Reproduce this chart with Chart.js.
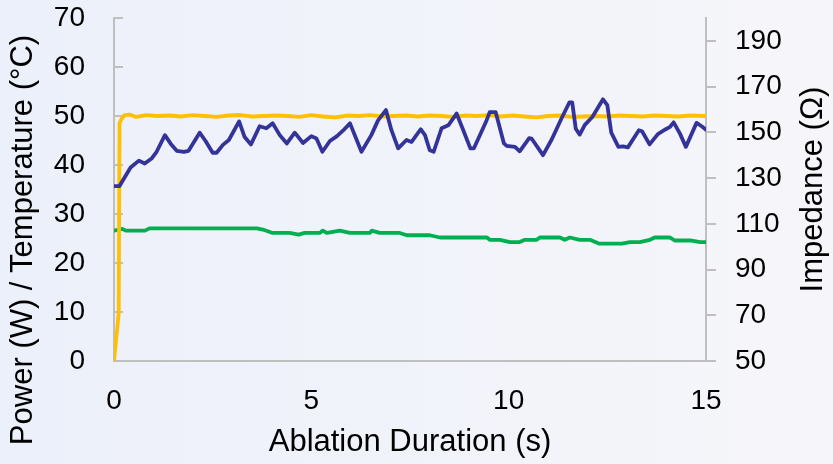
<!DOCTYPE html>
<html>
<head>
<meta charset="utf-8">
<script src="https://cdn.jsdelivr.net/npm/chart.js@4"></script>
<style>
  html, body { margin: 0; padding: 0; }
  body { width: 833px; height: 464px; overflow: hidden;
         background: linear-gradient(to right, #ecf0fa 0%, #f1f3fa 50%, #f6f6fa 100%); }
  #wrap { width: 833px; height: 464px; }
</style>
</head>
<body>
<div id="wrap"><canvas id="c" width="833" height="464"></canvas></div>
<script>
// ---- data ----
const xTicks = [0, 5, 10, 15];
const leftTicks = [0, 10, 20, 30, 40, 50, 60, 70];
const rightTicks = [50, 70, 90, 110, 130, 150, 170, 190];

const xTitle = 'Ablation Duration (s)';
const leftTitle = 'Power (W) / Temperature (°C)';
const rightTitle = 'Impedance (Ω)';

// Temperature (°C), left axis
const tempTime = [0, 0.14, 0.42, 0.63, 0.78, 0.96, 1.08, 1.29, 1.44, 1.59, 1.77, 1.89, 2.17, 2.32, 2.50, 2.60, 2.76, 2.91, 3.17, 3.31, 3.47, 3.69, 3.86, 4.02, 4.20, 4.38, 4.58, 4.79, 5.00, 5.13, 5.28, 5.47, 5.65, 5.80, 5.98, 6.27, 6.52, 6.69, 6.89, 7.03, 7.20, 7.41, 7.54, 7.77, 7.88, 8.00, 8.10, 8.30, 8.47, 8.68, 8.83, 9.03, 9.12, 9.44, 9.52, 9.67, 9.88, 9.95, 10.16, 10.28, 10.52, 10.58, 10.87, 11.09, 11.35, 11.54, 11.61, 11.70, 11.80, 11.93, 12.12, 12.39, 12.50, 12.60, 12.78, 12.90, 13.02, 13.30, 13.38, 13.57, 13.78, 13.98, 14.09, 14.18, 14.34, 14.49, 14.76, 14.89, 15.0];
const tempValues = [35.7, 35.7, 39.5, 40.9, 40.3, 41.4, 42.7, 46.1, 44.3, 42.9, 42.7, 42.9, 46.6, 44.9, 42.5, 42.5, 44.1, 45.1, 48.9, 45.7, 44.2, 47.9, 47.5, 48.5, 46.1, 44.4, 46.6, 44.5, 45.9, 45.4, 42.7, 44.9, 45.9, 47.0, 48.5, 42.7, 46.1, 49.1, 51.2, 47.1, 43.4, 45.1, 44.7, 47.3, 46.1, 43.0, 42.7, 47.5, 48.1, 50.5, 47.5, 43.4, 43.4, 49.1, 50.8, 50.8, 44.4, 43.9, 43.7, 42.8, 45.5, 45.4, 42.0, 45.2, 49.7, 52.8, 52.8, 47.4, 46.2, 48.2, 49.8, 53.4, 52.2, 46.6, 43.7, 43.8, 43.6, 47.1, 46.9, 44.2, 46.3, 47.3, 47.8, 48.7, 46.4, 43.7, 48.6, 47.9, 47.2];

// Power (W), left axis
const powerTime = [0, 0.12, 0.14, 0.19, 0.27, 0.4, 0.56, 0.82, 1.1, 1.4, 1.7, 2.0, 2.3, 2.6, 2.9, 3.2, 3.5, 3.8, 4.1, 4.4, 4.7, 5.0, 5.3, 5.6, 5.9, 6.2, 6.5, 6.8, 7.1, 7.4, 7.7, 8.0, 8.3, 8.6, 8.9, 9.2, 9.5, 9.8, 10.1, 10.4, 10.7, 11.0, 11.3, 11.6, 11.9, 12.2, 12.5, 12.8, 13.1, 13.4, 13.7, 14.0, 14.3, 14.6, 15.0];
const powerValues = [0, 9.8, 48.5, 49.4, 50.2, 50.3, 49.8, 50.2, 50.0, 50.1, 49.9, 50.2, 50.0, 49.8, 50.1, 50.2, 49.9, 50.0, 50.1, 50.0, 49.8, 50.2, 49.9, 49.7, 50.1, 50.0, 50.2, 49.9, 50.0, 50.1, 49.9, 50.1, 50.0, 49.8, 50.1, 50.0, 50.2, 49.9, 50.1, 49.9, 49.7, 50.0, 50.1, 49.8, 49.9, 50.0, 49.9, 50.1, 50.0, 49.9, 50.1, 50.0, 49.9, 50.1, 50.0];

// Impedance (Ω), right axis
const impTime = [0, 0.21, 0.30, 0.78, 0.90, 3.62, 3.77, 4.02, 4.45, 4.68, 4.83, 5.21, 5.29, 5.40, 5.72, 5.98, 6.48, 6.53, 6.73, 7.24, 7.42, 8.00, 8.26, 9.45, 9.52, 9.78, 10.03, 10.28, 10.41, 10.71, 10.79, 11.30, 11.42, 11.55, 11.80, 12.06, 12.30, 12.87, 13.07, 13.32, 13.58, 13.70, 14.09, 14.21, 14.60, 14.85, 15.0];
const impValues = [107, 107.8, 107, 107, 108, 108, 107.5, 106, 106, 105.3, 106, 106, 107, 106, 107, 106, 106, 107, 106, 106, 105, 105, 104, 104, 103, 103, 102, 102, 103, 103, 104, 104, 103, 104, 103, 103, 101.3, 101.3, 102, 102, 103, 104, 104, 102.7, 102.7, 102, 102];

// ---- chart ----
const FONT = '"Liberation Sans", Arial, sans-serif';
Chart.defaults.font.family = FONT;
Chart.defaults.color = '#000';

const pts = (ts, vs) => ts.map((t, i) => ({ x: t, y: vs[i] }));
const axisGray = '#bfbfbf';

const decorPlugin = {
  id: 'decor',
  beforeDatasetsDraw(chart) {
    // inward tick marks of the left axis
    const { ctx, chartArea } = chart;
    const s = chart.scales.y;
    ctx.save();
    ctx.strokeStyle = axisGray;
    ctx.lineWidth = 2;
    ctx.beginPath();
    leftTicks.forEach(v => {
      const y = Math.round(s.getPixelForValue(v));
      ctx.moveTo(chartArea.left, y);
      ctx.lineTo(chartArea.left + 9, y);
    });
    ctx.stroke();
    ctx.restore();
  },
  afterDraw(chart) {
    const { ctx, chartArea } = chart;
    ctx.save();
    ctx.font = '31px ' + FONT;
    ctx.fillStyle = '#000';
    ctx.textAlign = 'center';
    ctx.textBaseline = 'middle';
    // left axis title
    ctx.save();
    ctx.translate(23, 240);
    ctx.rotate(-Math.PI / 2);
    ctx.fillText(leftTitle, 0, 0);
    ctx.restore();
    // right axis title
    ctx.save();
    ctx.translate(chart.scales.y1.right - 20, (chartArea.top + chartArea.bottom) / 2);
    ctx.rotate(-Math.PI / 2);
    ctx.fillText(rightTitle, 0, 0);
    ctx.restore();
    ctx.restore();
  }
};

new Chart(document.getElementById('c'), {
  type: 'line',
  data: {
    datasets: [
      { label: 'Temperature', data: pts(tempTime, tempValues), yAxisID: 'y',
        borderColor: '#333399', borderWidth: 3.8, pointRadius: 0, tension: 0,
        borderJoinStyle: 'round', borderCapStyle: 'round' },
      { label: 'Power', data: pts(powerTime, powerValues), yAxisID: 'y',
        borderColor: '#ffc000', borderWidth: 3.8, pointRadius: 0, tension: 0,
        borderJoinStyle: 'round', borderCapStyle: 'round' },
      { label: 'Impedance', data: pts(impTime, impValues), yAxisID: 'y1',
        borderColor: '#00b050', borderWidth: 3.8, pointRadius: 0, tension: 0,
        borderJoinStyle: 'round', borderCapStyle: 'round' }
    ]
  },
  options: {
    responsive: false,
    animation: false,
    layout: { padding: { top: 18, bottom: 0, left: 0, right: 0 } },
    plugins: {
      legend: { display: false },
      tooltip: { enabled: false },
      title: { display: false, text: leftTitle }
    },
    scales: {
      x: {
        type: 'linear', min: 0, max: 15,
        afterBuildTicks: s => { s.ticks = xTicks.map(v => ({ value: v })); },
        afterFit: s => { s.height = 103; },
        ticks: { font: { size: 28 }, color: '#000', padding: 23, maxRotation: 0 },
        grid: { display: false, drawTicks: false },
        border: { color: axisGray, width: 2 },
        title: { display: true, text: xTitle, font: { size: 31 }, color: '#000',
                 padding: { top: 0, bottom: 3 } }
      },
      y: {
        position: 'left', min: 0, max: 70,
        afterBuildTicks: s => { s.ticks = leftTicks.map(v => ({ value: v })); },
        afterFit: s => { s.width = 114; s.paddingTop = 0; s.paddingBottom = 0; },
        ticks: { font: { size: 28 }, color: '#000', padding: 29 },
        grid: { display: false, drawTicks: false },
        border: { color: axisGray, width: 2 },
        title: { display: false, text: leftTitle }
      },
      y1: {
        position: 'right', min: 50, max: 200,
        afterBuildTicks: s => { s.ticks = rightTicks.map(v => ({ value: v })); },
        afterFit: s => { s.width = 127; s.paddingTop = 0; s.paddingBottom = 0; },
        ticks: { font: { size: 28 }, color: '#000', padding: 19 },
        grid: { drawOnChartArea: false, drawTicks: true, tickLength: 10, color: axisGray, lineWidth: 2 },
        border: { color: axisGray, width: 2 },
        title: { display: false, text: rightTitle }
      }
    }
  },
  plugins: [decorPlugin]
});
</script>
</body>
</html>
